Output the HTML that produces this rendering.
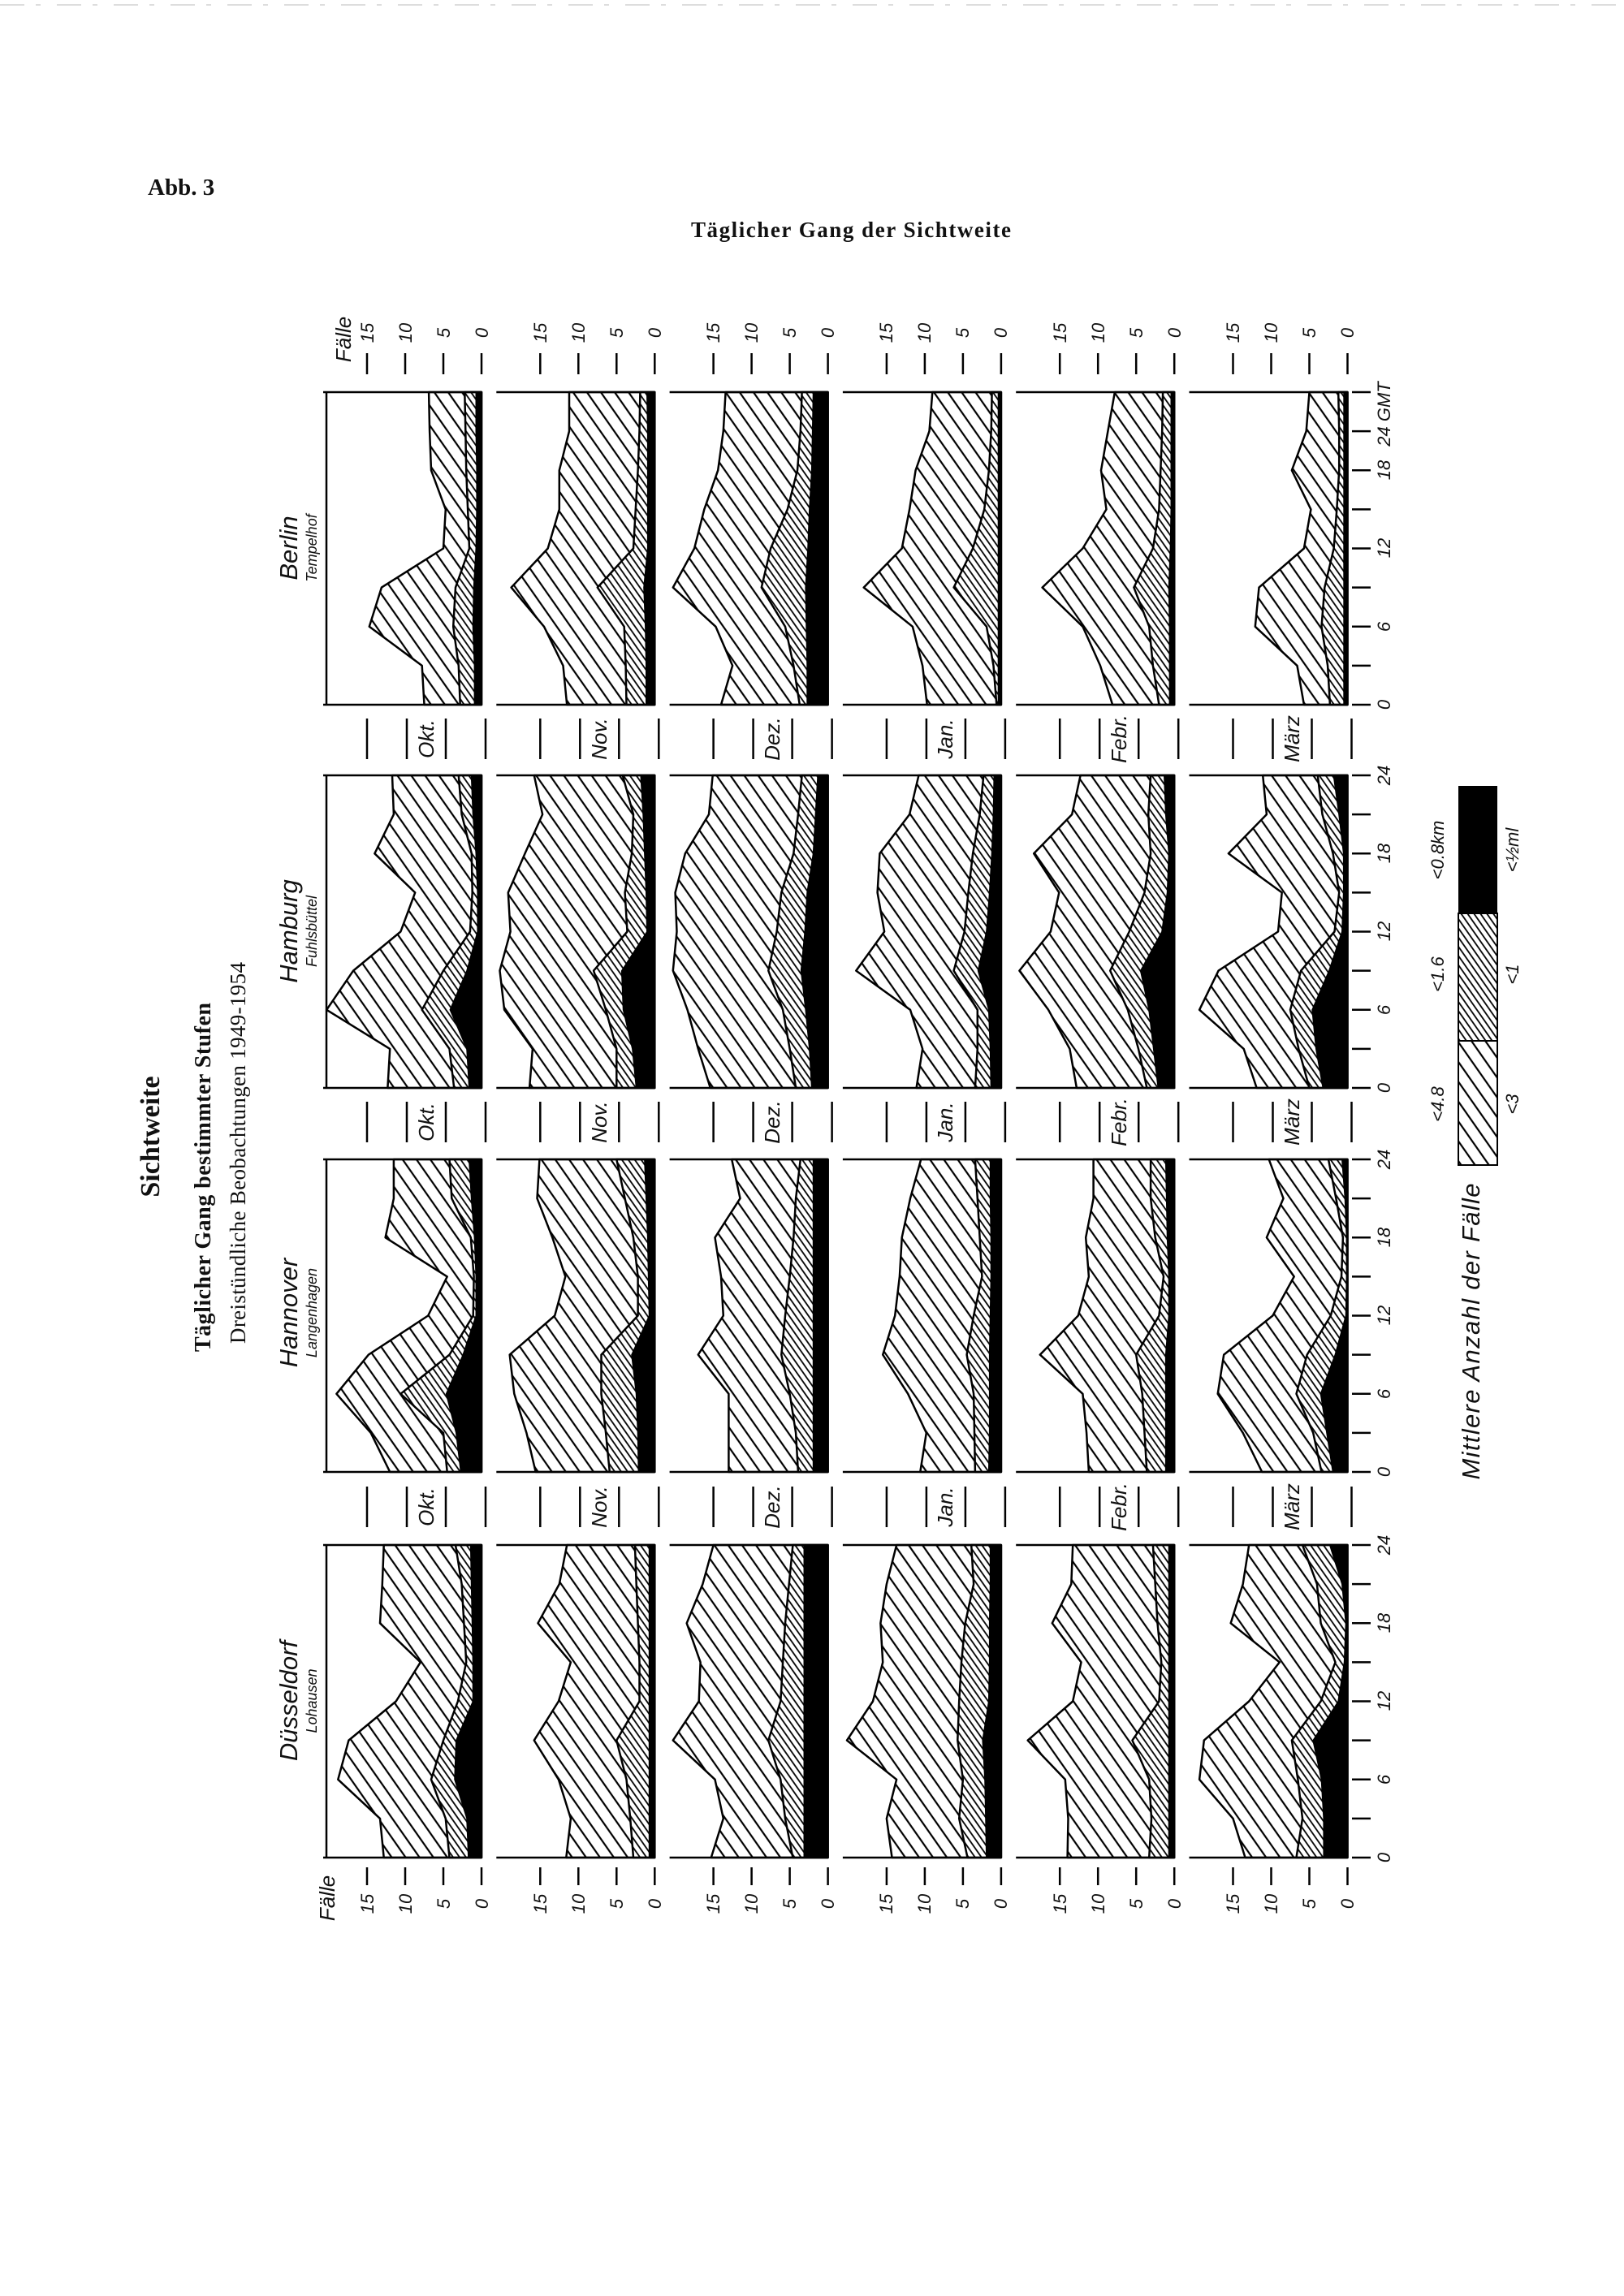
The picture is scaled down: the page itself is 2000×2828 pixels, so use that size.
<!DOCTYPE html>
<html><head><meta charset="utf-8"><style>
html,body{margin:0;padding:0;background:#fff;}
svg{display:block;}
.n{font-family:"Liberation Sans","DejaVu Sans",sans-serif;font-style:italic;font-size:22px;fill:#111;}
.m{font-family:"Liberation Sans","DejaVu Sans",sans-serif;font-style:italic;font-size:26px;fill:#111;}
.st{font-family:"Liberation Sans","DejaVu Sans",sans-serif;font-style:italic;font-size:31px;fill:#111;}
.sb{font-family:"Liberation Sans","DejaVu Sans",sans-serif;font-style:italic;font-size:18px;fill:#111;}
.sf{font-family:"Liberation Serif","DejaVu Serif",serif;fill:#111;}
</style></head><body>
<svg id="s" width="2000" height="2828" viewBox="0 0 2000 2828" xmlns="http://www.w3.org/2000/svg">
<defs>
<pattern id="w" width="14" height="14" patternUnits="userSpaceOnUse" patternTransform="rotate(-35)">
<rect width="14" height="14" fill="#fff"/><line x1="7" y1="0" x2="7" y2="14" stroke="#000" stroke-width="2.2"/></pattern>
<pattern id="d" width="6.5" height="6.5" patternUnits="userSpaceOnUse" patternTransform="rotate(-35)">
<rect width="6.5" height="6.5" fill="#fff"/><line x1="3" y1="0" x2="3" y2="6.5" stroke="#000" stroke-width="1.8"/></pattern>
</defs>
<rect width="2000" height="2828" fill="#fff"/>
<line x1="0" y1="6" x2="2000" y2="6" stroke="#bbb" stroke-width="1" stroke-dasharray="30 14 6 20"/>

<text class="sf" x="182" y="240" font-size="29" font-weight="bold">Abb. 3</text>
<text class="sf" x="851" y="292" font-size="27" font-weight="bold" textLength="394">Täglicher Gang der Sichtweite</text>

<text class="sf" font-size="34" font-weight="bold" text-anchor="middle" transform="translate(196,1400) rotate(-90)">Sichtweite</text>
<text class="sf" font-size="28" font-weight="bold" text-anchor="middle" textLength="430" transform="translate(259,1450) rotate(-90)">Täglicher Gang bestimmter Stufen</text>
<text class="sf" font-size="27" text-anchor="middle" textLength="470" transform="translate(302,1420) rotate(-90)">Dreistündliche Beobachtungen 1949-1954</text>

<text class="st" text-anchor="middle" transform="translate(366,675) rotate(-90)">Berlin</text>
<text class="sb" text-anchor="middle" transform="translate(390,675) rotate(-90)">Tempelhof</text>
<text class="st" text-anchor="middle" transform="translate(366,1147) rotate(-90)">Hamburg</text>
<text class="sb" text-anchor="middle" transform="translate(390,1147) rotate(-90)">Fuhlsbüttel</text>
<text class="st" text-anchor="middle" transform="translate(366,1617) rotate(-90)">Hannover</text>
<text class="sb" text-anchor="middle" transform="translate(390,1617) rotate(-90)">Langenhagen</text>
<text class="st" text-anchor="middle" transform="translate(366,2095) rotate(-90)">Düsseldorf</text>
<text class="sb" text-anchor="middle" transform="translate(390,2095) rotate(-90)">Lohausen</text>

<text class="m" text-anchor="middle" transform="translate(432,418) rotate(-90)">Fälle</text>
<g class="n" text-anchor="middle">
<text transform="translate(460,410) rotate(-90)">15</text><text transform="translate(507,410) rotate(-90)">10</text><text transform="translate(554,410) rotate(-90)">5</text><text transform="translate(601,410) rotate(-90)">0</text>
<text transform="translate(673,410) rotate(-90)">15</text><text transform="translate(720,410) rotate(-90)">10</text><text transform="translate(767,410) rotate(-90)">5</text><text transform="translate(814,410) rotate(-90)">0</text>
<text transform="translate(886,410) rotate(-90)">15</text><text transform="translate(933,410) rotate(-90)">10</text><text transform="translate(980,410) rotate(-90)">5</text><text transform="translate(1027,410) rotate(-90)">0</text>
<text transform="translate(1099,410) rotate(-90)">15</text><text transform="translate(1146,410) rotate(-90)">10</text><text transform="translate(1193,410) rotate(-90)">5</text><text transform="translate(1240,410) rotate(-90)">0</text>
<text transform="translate(1313,410) rotate(-90)">15</text><text transform="translate(1360,410) rotate(-90)">10</text><text transform="translate(1407,410) rotate(-90)">5</text><text transform="translate(1454,410) rotate(-90)">0</text>
<text transform="translate(1526,410) rotate(-90)">15</text><text transform="translate(1573,410) rotate(-90)">10</text><text transform="translate(1620,410) rotate(-90)">5</text><text transform="translate(1667,410) rotate(-90)">0</text>
</g>
<text class="m" text-anchor="middle" transform="translate(412,2338) rotate(-90)">Fälle</text>
<g class="n" text-anchor="middle">
<text transform="translate(460,2345) rotate(-90)">15</text><text transform="translate(507,2345) rotate(-90)">10</text><text transform="translate(554,2345) rotate(-90)">5</text><text transform="translate(601,2345) rotate(-90)">0</text>
<text transform="translate(673,2345) rotate(-90)">15</text><text transform="translate(720,2345) rotate(-90)">10</text><text transform="translate(767,2345) rotate(-90)">5</text><text transform="translate(814,2345) rotate(-90)">0</text>
<text transform="translate(886,2345) rotate(-90)">15</text><text transform="translate(933,2345) rotate(-90)">10</text><text transform="translate(980,2345) rotate(-90)">5</text><text transform="translate(1027,2345) rotate(-90)">0</text>
<text transform="translate(1099,2345) rotate(-90)">15</text><text transform="translate(1146,2345) rotate(-90)">10</text><text transform="translate(1193,2345) rotate(-90)">5</text><text transform="translate(1240,2345) rotate(-90)">0</text>
<text transform="translate(1313,2345) rotate(-90)">15</text><text transform="translate(1360,2345) rotate(-90)">10</text><text transform="translate(1407,2345) rotate(-90)">5</text><text transform="translate(1454,2345) rotate(-90)">0</text>
<text transform="translate(1526,2345) rotate(-90)">15</text><text transform="translate(1573,2345) rotate(-90)">10</text><text transform="translate(1620,2345) rotate(-90)">5</text><text transform="translate(1667,2345) rotate(-90)">0</text>
</g>

<g class="m" text-anchor="middle">
<text transform="translate(534,910) rotate(-90)">Okt.</text><text transform="translate(747,910) rotate(-90)">Nov.</text><text transform="translate(960,910) rotate(-90)">Dez.</text><text transform="translate(1173,910) rotate(-90)">Jan.</text><text transform="translate(1387,910) rotate(-90)">Febr.</text><text transform="translate(1600,910) rotate(-90)">März</text>
<text transform="translate(534,1382) rotate(-90)">Okt.</text><text transform="translate(747,1382) rotate(-90)">Nov.</text><text transform="translate(960,1382) rotate(-90)">Dez.</text><text transform="translate(1173,1382) rotate(-90)">Jan.</text><text transform="translate(1387,1382) rotate(-90)">Febr.</text><text transform="translate(1600,1382) rotate(-90)">März</text>
<text transform="translate(534,1856) rotate(-90)">Okt.</text><text transform="translate(747,1856) rotate(-90)">Nov.</text><text transform="translate(960,1856) rotate(-90)">Dez.</text><text transform="translate(1173,1856) rotate(-90)">Jan.</text><text transform="translate(1387,1856) rotate(-90)">Febr.</text><text transform="translate(1600,1856) rotate(-90)">März</text>
</g>

<g class="n" text-anchor="middle">
<text transform="translate(1712,868) rotate(-90)">0</text><text transform="translate(1712,772) rotate(-90)">6</text><text transform="translate(1712,675) rotate(-90)">12</text><text transform="translate(1712,579) rotate(-90)">18</text><text transform="translate(1712,510) rotate(-90)">24 GMT</text>
<text transform="translate(1712,1340) rotate(-90)">0</text><text transform="translate(1712,1244) rotate(-90)">6</text><text transform="translate(1712,1147) rotate(-90)">12</text><text transform="translate(1712,1051) rotate(-90)">18</text><text transform="translate(1712,955) rotate(-90)">24</text>
<text transform="translate(1712,1813) rotate(-90)">0</text><text transform="translate(1712,1717) rotate(-90)">6</text><text transform="translate(1712,1620) rotate(-90)">12</text><text transform="translate(1712,1524) rotate(-90)">18</text><text transform="translate(1712,1428) rotate(-90)">24</text>
<text transform="translate(1712,2288) rotate(-90)">0</text><text transform="translate(1712,2192) rotate(-90)">6</text><text transform="translate(1712,2095) rotate(-90)">12</text><text transform="translate(1712,1999) rotate(-90)">18</text><text transform="translate(1712,1903) rotate(-90)">24</text>
</g>

<rect x="1796" y="968" width="48" height="157" fill="#000"/>
<rect x="1796" y="1125" width="48" height="157" fill="url(#d)" stroke="#000" stroke-width="2"/>
<rect x="1796" y="1282" width="48" height="153" fill="url(#w)" stroke="#000" stroke-width="2"/>
<g class="n" text-anchor="middle">
<text transform="translate(1778,1047) rotate(-90)">&lt;0.8km</text>
<text transform="translate(1778,1200) rotate(-90)">&lt;1.6</text>
<text transform="translate(1778,1360) rotate(-90)">&lt;4.8</text>
<text transform="translate(1870,1047) rotate(-90)">&lt;½ml</text>
<text transform="translate(1870,1200) rotate(-90)">&lt;1</text>
<text transform="translate(1870,1360) rotate(-90)">&lt;3</text>
</g>
<text class="st" text-anchor="middle" textLength="365" transform="translate(1822,1640) rotate(-90)">Mittlere Anzahl der Fälle</text>

<g id="plots"></g>
<g id="lines" stroke="#000" stroke-width="2.5" fill="none"></g>
</svg>
<script>
(function(){
var NS="http://www.w3.org/2000/svg";
var P=document.getElementById("plots"),L=document.getElementById("lines");
var tops=[483,955,1428,1903],H=385,W=191,K=9.4;
function lefts(i){return 402+213.3*i;}
function C(v){var a=[];for(var i=0;i<9;i++)a.push(v);return a;}
var D=[
[[[7.5,7.8,14.7,13.1,5,4.7,6.6,6.8,6.9],[2.8,3,3.7,3.4,1.6,1.8,2,2.1,2.2],[1,1,1.2,1.1,0.8,0.7,0.7,0.8,0.8]],
 [[11.5,12,14.5,18.8,14,12.5,12.5,11.2,11.2],[3.7,3.8,4,7.5,2.8,2.5,2.2,2,1.9],[1.2,1.2,1.3,1.5,1,1,1,1,1.1]],
 [[14,12.5,14.7,20.3,17.5,16.2,14.4,13.7,13.4],[3.7,4.5,5.6,8.7,7.5,5.3,4,3.6,3.4],[2.8,2.8,2.9,3,2.7,2.5,2.2,2.1,2]],
 [[9.7,10.3,11.6,18,13,12,11.2,9.4,9],[0.6,1,1.9,6.2,3.7,2.2,1.6,1.3,1.2],C(0.45)],
 [[8.1,9.7,12,17.3,12,8.9,9.6,8.7,7.8],[2,2.8,3.3,5.3,2.8,2,1.8,1.6,1.5],[0.7,0.7,0.7,0.8,0.6,0.5,0.5,0.5,0.5]],
 [[5.7,6.6,12.1,11.6,5.7,4.8,7.3,5.4,5],[2.3,2.6,3.4,3,1.8,1.4,1.1,1.1,1.2],C(0.55)]],
[[[12.3,12,20.3,16.8,10.6,8.7,14,11.5,11.7],[3.6,4.2,7.8,5,1.5,1.2,1.3,2.6,3],[1.7,2,4.2,2,0.6,0.6,0.8,1.2,1.4]],
 [[16.4,16,19.7,20.3,18.9,19.2,17,14.7,15.8],[5,5,6.4,8,3.6,3.9,3,2.8,4.2],[2.5,3,4.2,4.4,1.1,1.2,1.4,1.6,1.9]],
 [[15.4,17,18.4,20.3,19.8,20,18.7,15.6,15.1],[4.2,5,5.9,7.8,6.7,6.1,4.5,3.9,3.4],[2.2,2.5,3,3.6,3.1,2.8,2,1.7,1.4]],
 [[11.1,10.3,11.9,19,15.3,16.2,15.9,12,10.8],[3.4,3.1,3.1,6.2,4.8,4.3,3.7,2.8,2.3],[1.4,1.5,1.7,3.1,2,1.6,1.3,1.1,1]],
 [[12.8,13.7,16.5,20.3,16.2,15.1,18.4,13.4,12.3],[3.6,4.7,6.1,8.4,5.9,3.9,3.1,3.4,3.1],[2.2,2.8,3.4,4.5,1.7,1,0.8,1.2,1.4]],
 [[11.9,13.6,19.4,16.9,9.1,8.6,15.6,10.6,11.1],[5,6.4,7.5,6.1,1.7,1.1,1.9,3.3,3.9],[3.3,4.2,4.7,2.5,0.8,0.6,0.6,1.2,1.9]]],
[[[12,14.5,19,14.8,7,4.5,12.6,11.5,11.5],[4.5,5,10.6,4.2,1.1,1,1.4,3.9,4.2],[2.8,3.4,4.7,2.5,0.8,0.8,1,1.4,1.7]],
 [[15.6,16.8,18.4,19,13.1,11.7,13.4,15.4,15.1],[5.9,6.4,7,7,2.2,2.2,2.8,3.9,5],[2.2,2.3,2.5,3.1,0.8,0.9,1,1.2,1.4]],
 [[13,13,13,17,13.7,14,14.8,11.5,12.6],[3.9,4.2,5,6.1,5.6,5,4.5,4.2,3.6],C(2)],
 [[10.6,9.8,12.2,15.5,13.9,13.3,13,11.9,10.5],[3.4,3.5,3.6,4.5,3.6,2.5,2.8,3.1,3.4],[1.7,1.6,1.6,1.6,1.5,1.4,1.4,1.5,1.5]],
 [[11.2,11.5,12,17.6,12.6,11.2,11.6,10.6,10.6],[3.6,3.9,4.2,5,2,1.4,2.5,3.1,3.1],[1.2,1.2,1.2,1.2,0.8,0.8,1,1.1,1.2]],
 [[11.2,13.7,17,16.2,9.8,7,10.6,8.4,10.3],[3.4,4.5,6.7,5.3,2.2,0.8,0.6,1.5,2.5],[2,2.8,3.6,1.7,0.3,0.2,0.2,0.4,0.8]]],
[[[12.8,13.3,18.8,17.4,11.2,8,13.3,13,12.8],[4.2,4.7,6.6,5,3.1,2,2.3,2.6,3.4],[1.8,2,3.6,3.4,1.2,1.2,1.3,1.4,1.5]],
 [[11.6,11,12.6,15.8,12.6,11,15.3,12.5,11.5],[2.8,3.2,3.7,5,2,2,2.2,2.4,2.6],C(0.8)],
 [[15.3,13.7,14.8,20.3,16.9,16.7,18.5,16.4,15],[4.6,5.6,6.2,7.8,6.2,5.9,5.6,5.1,4.6],C(3.2)],
 [[14.3,15,13.7,20.2,16.8,15.5,15.8,15,13.7],[4.4,5.5,5,5.7,5.5,5.2,4.7,3.6,3.9],[2,2.1,2.2,2.5,1.7,1.6,1.6,1.5,1.5]],
 [[14,13.9,14.3,19.2,13.3,12.2,16,13.5,13.3],[3.3,3,3.3,5.5,2,1.7,2.2,2.5,2.8],C(0.8)],
 [[13.4,15,19.4,18.8,12.9,8.9,15.3,13.7,12.9],[6.7,5.9,6.5,7.3,3.5,1.6,3.5,4,5.9],[3.2,3.2,3.5,4.6,1.3,0.5,0.3,0.8,2.4]]]
];
function el(n,a,p){var e=document.createElementNS(NS,n);for(var k in a)e.setAttribute(k,a[k]);p.appendChild(e);return e;}
for(var r=0;r<4;r++){
 var t=tops[r],b=t+H;
 for(var c=0;c<6;c++){
  var x0=lefts(c),xr=x0+W;
  var fills=["url(#w)","url(#d)","#000"];
  for(var l=0;l<3;l++){
   var v=D[r][c][l],pts=[];
   for(var i=0;i<9;i++){pts.push((xr-Math.min(v[i],20.3)*K).toFixed(1)+","+(b-i*H/8).toFixed(1));}
   pts.push(xr+","+t);pts.push(xr+","+b);
   el("polygon",{points:pts.join(" "),fill:fills[l],stroke:"#000","stroke-width":l==2?0:2.5,"stroke-linejoin":"round"},P);
  }
  el("line",{x1:x0-4,y1:t,x2:xr,y2:t},L);
  el("line",{x1:x0-4,y1:b,x2:xr,y2:b},L);
  if(c==0)el("line",{x1:x0,y1:t,x2:x0,y2:b},L);
  if(r==0){for(var k=0;k<4;k++){var xx=xr-k*5*K;el("line",{x1:xx,y1:t-48,x2:xx,y2:t-22},L);}}
  if(r==3){for(var k=0;k<4;k++){var xx=xr-k*5*K;el("line",{x1:xx,y1:b+12,x2:xx,y2:b+34},L);}}
 }
 for(var i=0;i<9;i++){var yy=b-i*H/8;el("line",{x1:1665,y1:yy,x2:1688,y2:yy},L);}
}
var gaps=[910,1382,1856];
for(var g=0;g<3;g++)for(var c=0;c<6;c++){
 var x0=lefts(c),offs=[50,99,147,196];
 for(var k=0;k<4;k++)el("line",{x1:x0+offs[k],y1:gaps[g]-25,x2:x0+offs[k],y2:gaps[g]+25},L);
}
})();
</script>
</body></html>
